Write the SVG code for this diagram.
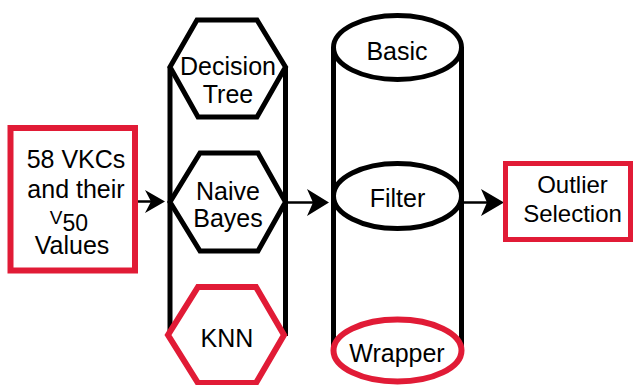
<svg xmlns="http://www.w3.org/2000/svg" width="634" height="385" viewBox="0 0 634 385">
<style>
.t{font-family:"Liberation Sans",Arial,sans-serif;font-size:25px;fill:#000;text-anchor:middle}
.s24{font-size:24px}
.red{fill:#fff;stroke:#E11B36;stroke-width:6}
.blk{fill:#fff;stroke:#000;stroke-width:5}
.col{stroke:#000;stroke-width:5;fill:none}
.conn{stroke:#000;stroke-width:2.5;fill:none}
.head{fill:#000;stroke:none}
</style>
<rect width="634" height="385" fill="#fff"/>
<g id="connectors">
<line class="conn" x1="138" y1="201.5" x2="160" y2="201.5"/>
<path class="head" d="M165,201.5 L145,190 L151,201.5 L145,213 Z"/>
<line class="conn" x1="287" y1="202.5" x2="322" y2="202.5"/>
<path class="head" d="M329,202.5 L307,189 L313,202.5 L307,216 Z"/>
<line class="conn" x1="464" y1="202.5" x2="497" y2="202.5"/>
<path class="head" d="M504,202.5 L481,189 L487,202.5 L481,216 Z"/>
</g>
<g id="input">
<rect class="red" x="10.5" y="128" width="124.5" height="142.5"/>
<text class="t" x="76" y="168">58 VKCs</text>
<text class="t" x="76" y="198">and their</text>
<text class="t" x="69" y="224"><tspan style="font-size:19px">V</tspan><tspan style="font-size:23px" dy="7">50</tspan></text>
<text class="t" x="72" y="254">Values</text>
</g>
<g id="classifiers">
<line class="col" x1="170" y1="67" x2="170" y2="336"/>
<line class="col" x1="285.5" y1="67" x2="285.5" y2="336"/>
<g id="decision-tree">
<polygon class="blk" points="197,20 257,20 285.5,67 257,117 198,117 170,67"/>
<text class="t" x="228" y="75">Decision</text>
<text class="t" x="228" y="103">Tree</text>
</g>
<g id="naive-bayes">
<polygon class="blk" points="200,153 258,153 285.5,202 258,251 200,251 170,202"/>
<text class="t" x="228" y="200">Naive</text>
<text class="t" x="228" y="227">Bayes</text>
</g>
<g id="knn">
<polygon class="red" points="198,287 256,287 284,335 256,383 198,383 168,335"/>
<text class="t" x="227" y="347">KNN</text>
</g>
</g>
<g id="selection-methods">
<line class="col" x1="333.5" y1="48" x2="333.5" y2="352"/>
<line class="col" x1="461.5" y1="48" x2="461.5" y2="352"/>
<g id="basic">
<ellipse class="blk" cx="397.5" cy="47.5" rx="64" ry="32"/>
<text class="t" x="397" y="60">Basic</text>
</g>
<g id="filter">
<ellipse class="blk" cx="397.5" cy="196" rx="64" ry="32.5"/>
<text class="t" x="397.5" y="207">Filter</text>
</g>
<g id="wrapper">
<ellipse class="red" cx="397.5" cy="350.5" rx="64" ry="31"/>
<text class="t" x="397" y="362">Wrapper</text>
</g>
</g>
<g id="outlier">
<rect class="red" x="505.5" y="163.5" width="125" height="76" style="stroke-width:5"/>
<text class="t s24" x="572.5" y="193">Outlier</text>
<text class="t s24" x="572.5" y="222">Selection</text>
</g>
</svg>
